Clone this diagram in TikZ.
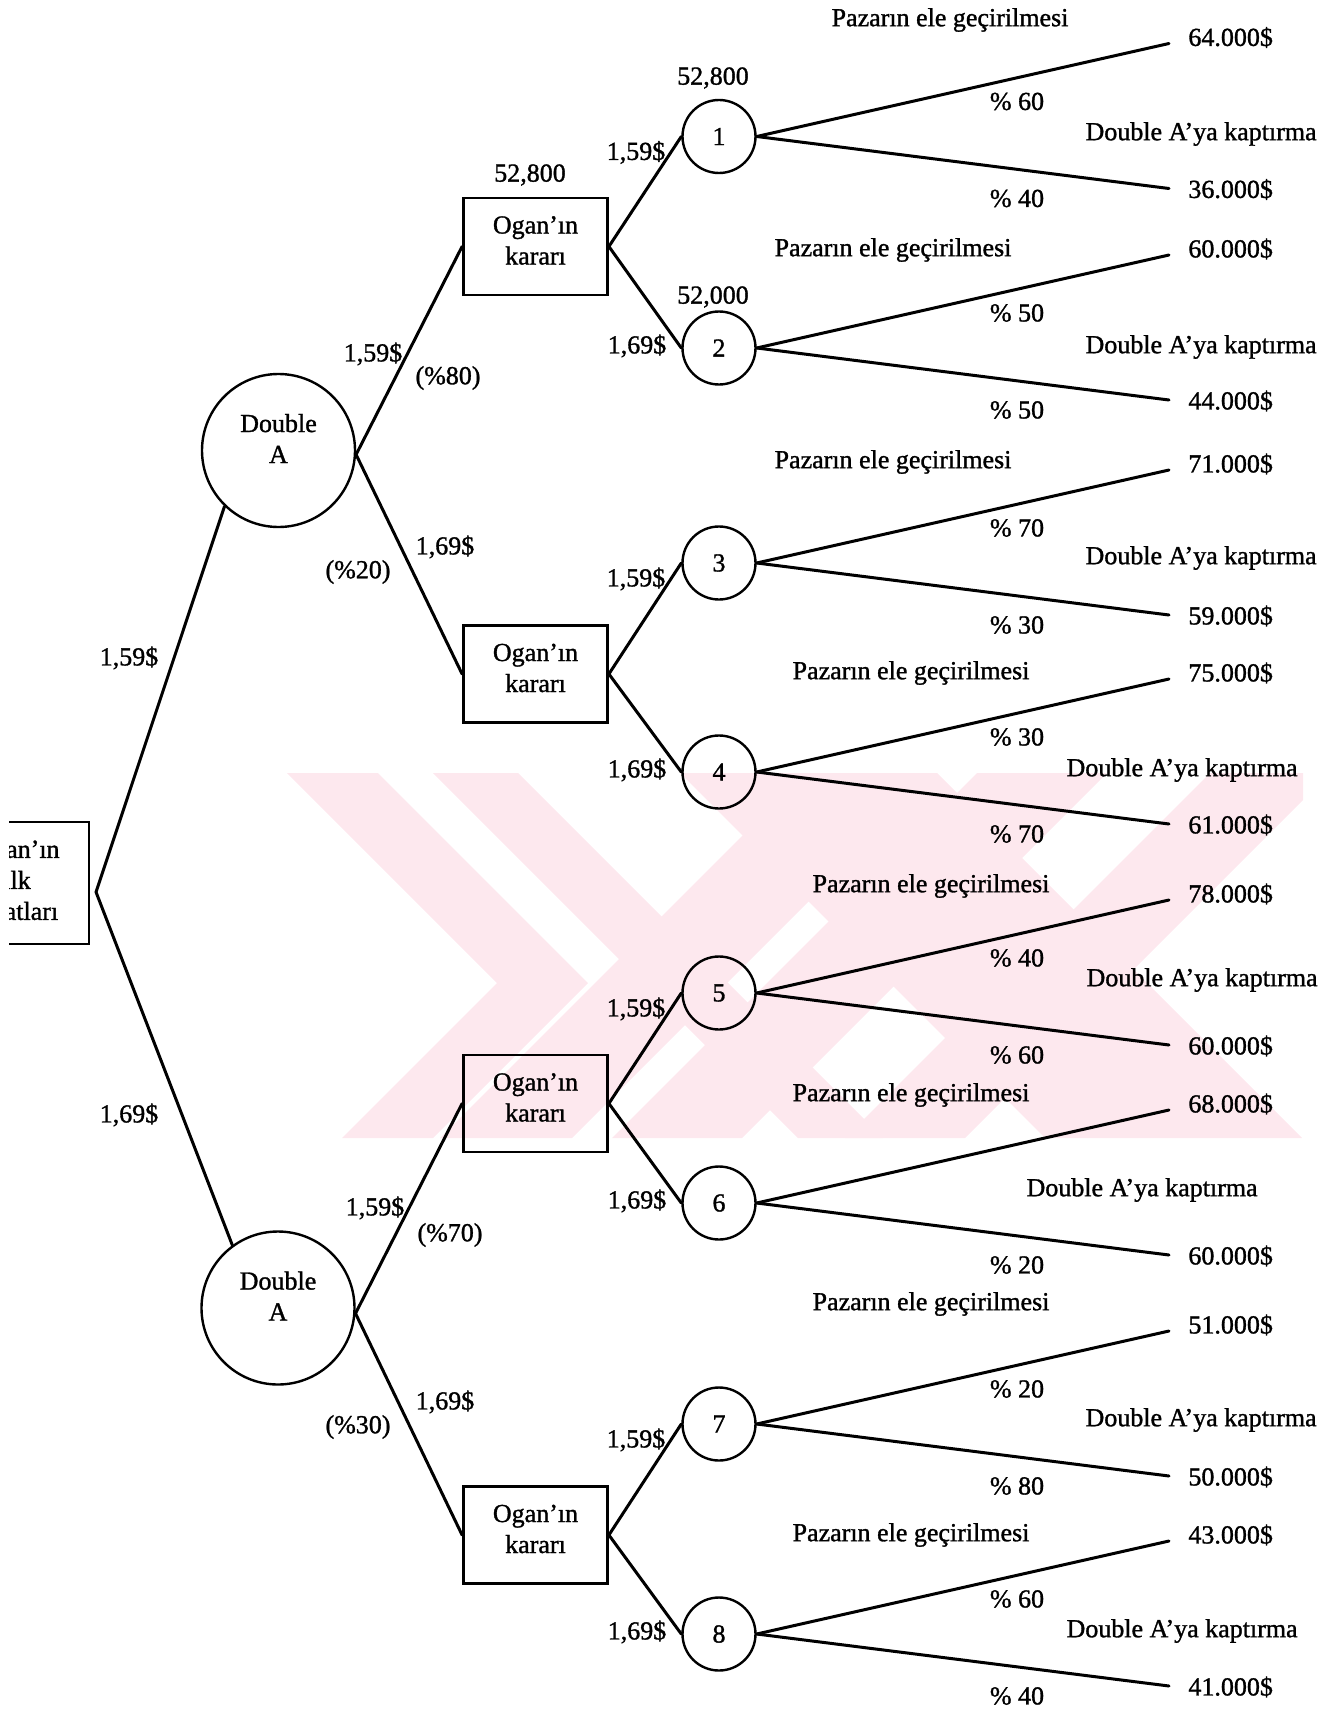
\documentclass[tikz,border=0pt]{standalone}
\usepackage{fontspec}
\setmainfont{Liberation Serif}
\font\scanfnt="Liberation Serif:embolden=1.2" at 13pt
\definecolor{wmpink}{RGB}{253,232,238}
\begin{document}
\begin{tikzpicture}[x=0.5pt,y=-0.5pt,
  every node/.style={font={\fontsize{13}{15.5}\selectfont\scanfnt}, inner sep=0pt},
  decision/.style={draw, line width=1.4pt, minimum width=72pt, minimum height=48.5pt},
  rootbox/.style={draw, line width=1.4pt, minimum width=72pt, minimum height=61pt, align=center},
  rival/.style={draw, circle, line width=1.2pt, minimum size=76.5pt},
  chance/.style={draw, circle, line width=1.2pt, minimum size=36.5pt},
  branch/.style={line width=1.5pt, line cap=round},
  boxtext/.style={yshift=3pt, align=center},
  rivaltext/.style={yshift=6pt, align=center}]

\useasboundingbox (0,0) rectangle (1324,1712);

% faint background emblem
\begin{scope}
  \clip (287,773) rectangle (1303,1138);
  \fill[wmpink] (287,773) -- (378,773) -- (588,983) -- (433,1138) -- (342,1138) -- (497,983) -- cycle;
  \fill[wmpink] (433,773) -- (518,773) -- (883,1138) -- (798,1138) -- cycle;
  \fill[wmpink] (680,773) -- (937,773) -- (1302,1138) -- (1045,1138) -- cycle;
  \fill[wmpink] (977,773) -- (1107,773) -- (742,1138) -- (612,1138) -- cycle;
  \fill[wmpink] (805,773) -- (937,773) -- (572,1138) -- (440,1138) -- cycle;
  \fill[wmpink] (1210,773) -- (1330,773) -- (965,1138) -- (845,1138) -- cycle;
\end{scope}

% root decision (partly cut by the page edge)
\begin{scope}
  \clip (9,700) rectangle (200,1000);
  \node[rootbox] (root) at (17,883) {Ogan’ın\\ilk\\fiyatları};
\end{scope}
\coordinate (apex) at (96,892);

% competitor's moves
\node[rival, label={[rivaltext]center:Double\\A}] (da1) at (278.5,450.5) {};
\node[rival, label={[rivaltext]center:Double\\A}] (da2) at (278,1308) {};

% Ogan's decisions
\foreach \j/\y in {1/246.5, 2/674, 3/1103.5, 4/1535}
  \node[decision, label={[boxtext]center:Ogan’ın\\kararı}] (b\j) at (535.5,\y) {};

% chance nodes with outcomes
\foreach \i/\cy/\pu/\pd/\vu/\vd/\px/\py/\dx/\dy in {
  1/136.5/{\% 60}/{\% 40}/64.000/36.000/950/20/1317/134,
  2/348/{\% 50}/{\% 50}/60.000/44.000/893/250/1317/347,
  3/563/{\% 70}/{\% 30}/71.000/59.000/893/462/1317/558,
  4/772/{\% 30}/{\% 70}/75.000/61.000/911/673/1298/770,
  5/993/{\% 40}/{\% 60}/78.000/60.000/931/886/1318/980,
  6/1203/{}/{\% 20}/68.000/60.000/911/1095/1258/1190,
  7/1424/{\% 20}/{\% 80}/51.000/50.000/931/1304/1317/1420,
  8/1634/{\% 60}/{\% 40}/43.000/41.000/911/1535/1298/1631}{
  \node[chance] (c\i) at (719,\cy) {\i};
  \coordinate (eu\i) at (1169,\cy-93);
  \coordinate (ed\i) at (1169,\cy+52);
  \node[anchor=west] (vu\i) at (1188,\cy-99) {\vu\$};
  \node[anchor=west] (vd\i) at (1188,\cy+53) {\vd\$};
  \node (pu\i) at (1017,\cy-35) {\pu};
  \node (pd\i) at (1017,\cy+62) {\pd};
  \node (pz\i) at (\px,\py) {Pazarın ele geçirilmesi};
  \node[anchor=east] (dk\i) at (\dx,\dy) {Double A’ya kaptırma};
  \draw[branch] (c\i.east) -- (eu\i);
  \draw[branch] (c\i.east) -- (ed\i);
}

% price branches
\draw[branch] (apex) -- (da1.226);
\draw[branch] (apex) -- (da2.126);
\draw[branch] (da1.-3) -- (b1.west);
\draw[branch] (da1.-3) -- (b2.west);
\draw[branch] (da2.-4) -- (b3.west);
\draw[branch] (da2.-4) -- (b4.west);
\foreach \j/\u/\d in {1/1/2, 2/3/4, 3/5/6, 4/7/8}{
  \draw[branch] (b\j.east) -- (c\u.west);
  \draw[branch] (b\j.east) -- (c\d.west);
}

% branch labels
\node (l0u) at (129,658) {1,59\$};
\node (l0d) at (129,1115) {1,69\$};
\node (l1u) at (373,354) {1,59\$};
\node (p1u) at (448,378) {(\%80)};
\node (l1d) at (445,547) {1,69\$};
\node (p1d) at (358,572) {(\%20)};
\node (l2u) at (375,1208) {1,59\$};
\node (p2u) at (450,1235) {(\%70)};
\node (l2d) at (445,1402) {1,69\$};
\node (p2d) at (358,1427) {(\%30)};
\foreach \i/\cy in {1/136.5, 3/563, 5/993, 7/1424}
  \node (s\i) at (636,\cy+16) {1,59\$};
\foreach \i/\cy in {2/348, 4/772, 6/1203, 8/1634}
  \node (s\i) at (637,\cy-2) {1,69\$};

% expected values
\node (ev0) at (530,175) {52,800};
\node (ev1) at (713,78) {52,800};
\node (ev2) at (713,297) {52,000};
\end{tikzpicture}
\end{document}
